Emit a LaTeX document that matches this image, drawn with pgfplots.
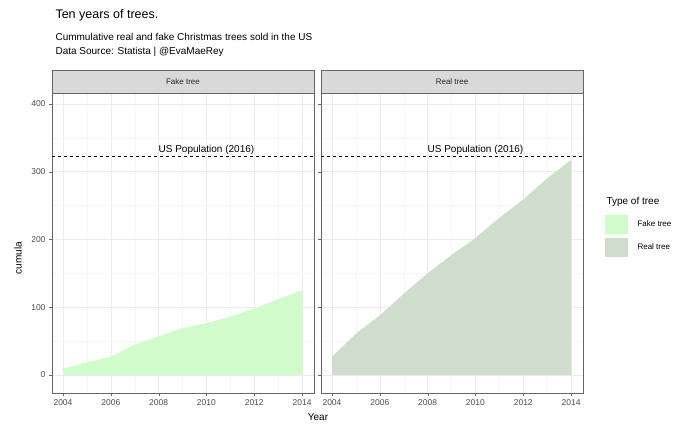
\documentclass[border=0pt]{standalone}
\usepackage{pgfplots}
\pgfplotsset{compat=1.18}
\usepackage{fontspec}
\setmainfont{Liberation Sans}
\definecolor{fakec}{HTML}{D0FCCC}
\definecolor{realc}{HTML}{CFDDCD}
\definecolor{gmaj}{HTML}{EBEBEB}
\definecolor{gmin}{HTML}{F5F5F5}
\definecolor{stripc}{HTML}{D9D9D9}
\pgfplotsset{panel/.style={scale only axis, width=262pt, height=300pt, anchor=south west,
 xmin=2003.54, xmax=2014.5, ymin=-26.6, ymax=416,
 xtick={2004,2006,...,2014}, minor xtick={2005,2007,...,2013},
 ytick={0,100,...,400}, minor ytick={50,150,...,350},
 grid=both, major grid style={gmaj,line width=0.6pt}, minor grid style={gmin,line width=0.4pt},
 axis line style={black!60,line width=0.6pt}, tick style={black!60},
 major tick length=3pt, minor tick length=0pt,
 tick align=outside, xtick pos=bottom, ytick pos=left,
 tick label style={font=\fontsize{8.5}{10}\selectfont, text=black!70},
 /pgf/number format/assume math mode=true, /pgf/number format/1000 sep={},
 clip=false}}
\begin{document}
\begin{tikzpicture}[x=1pt,y=1pt]
\path (0,0) rectangle (700,432);
\node[anchor=west,font=\fontsize{12.5}{14}\selectfont] at (52,417) {Ten years of trees.};
\node[anchor=west,font=\fontsize{10}{12}\selectfont] at (52,395) {Cummulative real and fake Christmas trees sold in the US};
\node[anchor=west,font=\fontsize{10}{12}\selectfont] at (52,380) {Data Source: Statista | @EvaMaeRey};
\begin{axis}[panel, at={(52pt,39pt)}]
\addplot[fill=fakec, draw=none] coordinates {(2004,0)(2004,9.3)(2005,18.6)(2006,27)(2007,45)(2008,57)(2009,69)(2010,76.5)(2011,86)(2012,98)(2013,112)(2014,125)(2014,0)};
\addplot[dashed, black, line width=0.7pt] coordinates {(2003.54,323)(2014.5,323)};
\node[anchor=south, font=\fontsize{10}{12}\selectfont, inner sep=1pt] at (axis cs:2010,323) {US Population (2016)};
\end{axis}
\begin{axis}[panel, at={(321pt,39pt)}, yticklabels={}]
\addplot[fill=realc, draw=none] coordinates {(2004,0)(2004,27)(2005,61)(2006,88)(2007,120)(2008,150)(2009,177)(2010,202)(2011,232)(2012,259)(2013,290)(2014,317)(2014,0)};
\addplot[dashed, black, line width=0.7pt] coordinates {(2003.54,323)(2014.5,323)};
\node[anchor=south, font=\fontsize{10}{12}\selectfont, inner sep=1pt] at (axis cs:2010,323) {US Population (2016)};
\end{axis}
\fill[fakec] (605,198) rectangle (628,217);
\node[anchor=west,font=\fontsize{8}{10}\selectfont] at (634,208) {Fake tree};
\fill[realc] (605,175) rectangle (628,194);
\node[anchor=west,font=\fontsize{8}{10}\selectfont] at (634,185) {Real tree};
\node[anchor=west,font=\fontsize{10}{12}\selectfont] at (603,230) {Type of tree};
\draw[black!60,line width=0.6pt,fill=stripc] (52,339) rectangle (314,362);
\draw[black!60,line width=0.6pt,fill=stripc] (321,339) rectangle (583,362);
\node[font=\fontsize{8}{10}\selectfont, text=black!85] at (183,350.5) {Fake tree};
\node[font=\fontsize{8}{10}\selectfont, text=black!85] at (452,350.5) {Real tree};
\node[font=\fontsize{10}{12}\selectfont] at (318,15) {Year};
\node[font=\fontsize{10}{12}\selectfont, rotate=90] at (18,174) {cumula};
\end{tikzpicture}
\end{document}
